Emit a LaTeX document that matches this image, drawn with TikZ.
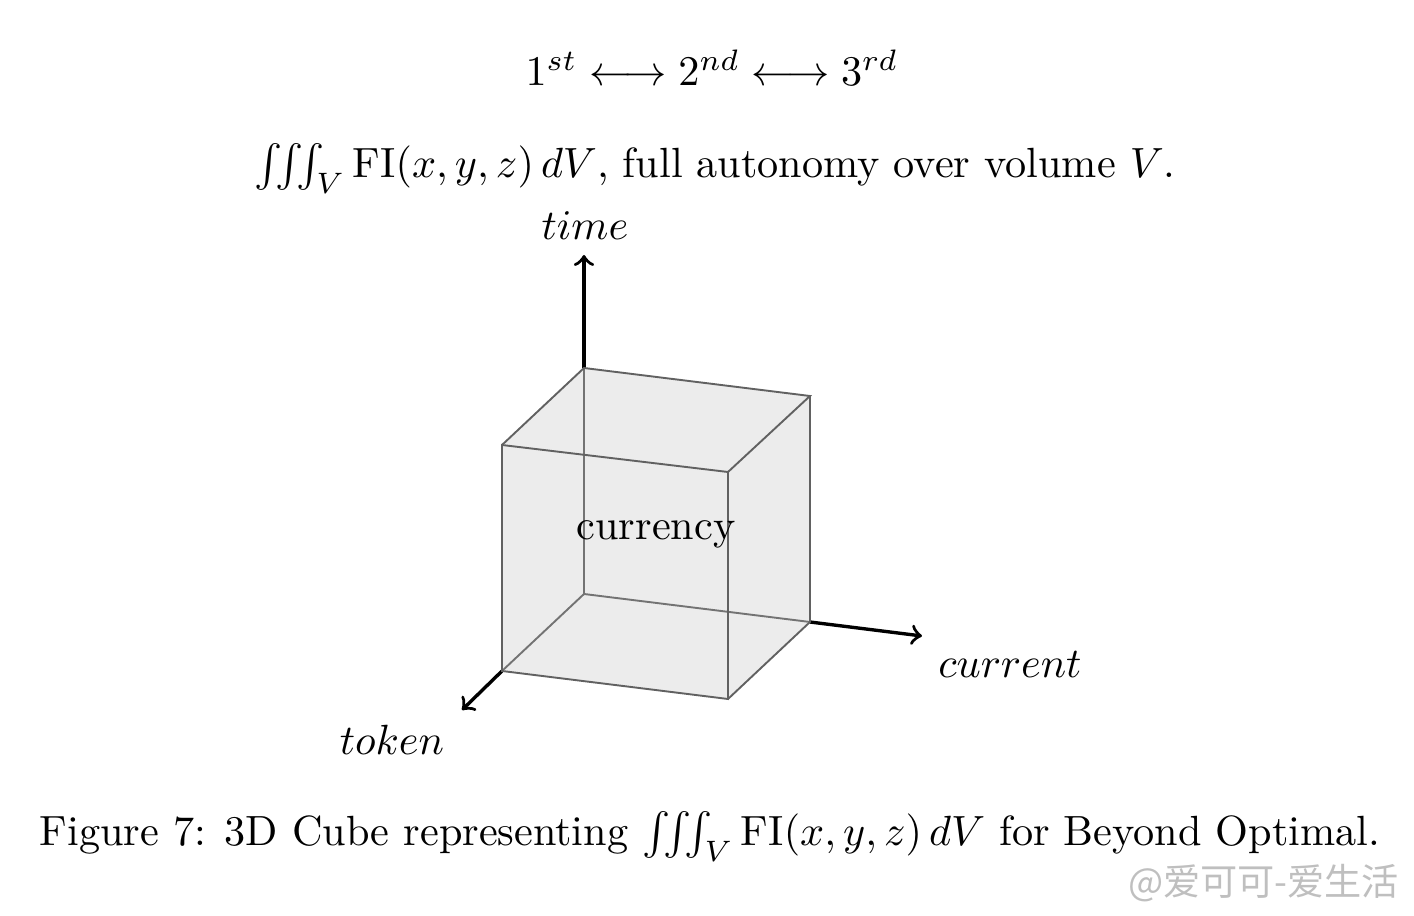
\documentclass[tikz,border=0pt]{standalone}
\usepackage{amsmath}
\usepackage{fontspec}
\newfontfamily\cjk{Noto Sans CJK SC}
\begin{document}
\begin{tikzpicture}[x=0.2367pt,y=-0.2367pt,
  cubeedge/.style={draw=black!62, line width=0.45pt},
  hiddenedge/.style={draw=black!55, line width=0.45pt},
  axis/.style={->, line width=0.8pt},
  lbl/.style={inner sep=0pt, anchor=base}]
\useasboundingbox (0,0) rectangle (1414,916);
% cube corners
\coordinate (O) at (584,594);
\coordinate (BR) at (810,622);
\coordinate (BTR) at (810,396);
\coordinate (BTL) at (584,368);
\coordinate (FBL) at (502,671);
\coordinate (FBR) at (728,699);
\coordinate (FTR) at (728,472);
\coordinate (FTL) at (502,445);
% axis ends
\coordinate (T) at (584,255);
\coordinate (C) at (922,636);
\coordinate (K) at (462,710);
% axes
\draw[axis] (BTL) -- (T);
\draw[axis] (BR) -- (C);
\draw[axis] (FBL) -- (K);
% cube body
\fill[black!7.5] (FBL) -- (FBR) -- (BR) -- (BTR) -- (BTL) -- (FTL) -- cycle;
\draw[hiddenedge] (O) -- (BTL);
\draw[hiddenedge] (O) -- (BR);
\draw[hiddenedge] (O) -- (FBL);
\draw[cubeedge] (FBL) -- (FBR) -- (FTR) -- (FTL) -- cycle;
\draw[cubeedge] (FTL) -- (BTL) -- (BTR) -- (FTR);
\draw[cubeedge] (FBR) -- (BR) -- (BTR);
% labels
\node[lbl] (cur) at (656,540) {currency};
\node[lbl] (tl) at (585,240) {$time$};
\node[lbl] (cl) at (1010,678) {$current$};
\node[lbl] (kl) at (392,755) {$token$};
\node[lbl] (l1) at (712,86) {$1^{st} \longleftrightarrow 2^{nd} \longleftrightarrow 3^{rd}$};
\node[lbl] (l2) at (715,178) {$\iiint_V \mathrm{FI}(x,y,z)\,dV$, full autonomy over volume $V$.};
\node[lbl] (cap) at (710,846) {Figure 7: 3D Cube representing $\iiint_V \mathrm{FI}(x,y,z)\,dV$ for Beyond Optimal.};
\node[lbl, text=black!25, font=\cjk\fontsize{8.8}{10}\selectfont, anchor=base east] (wm) at (1400,896) {@爱可可-爱生活};
\end{tikzpicture}
\end{document}
